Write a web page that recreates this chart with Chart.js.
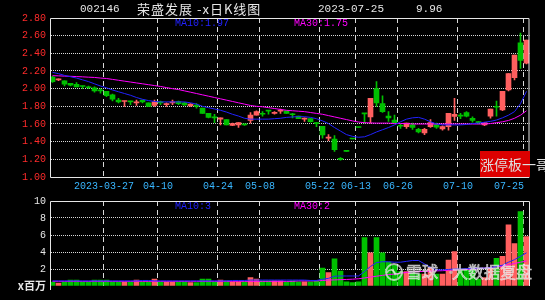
<!DOCTYPE html>
<html>
<head>
<meta charset="utf-8">
<script src="https://cdn.jsdelivr.net/npm/chart.js@4.4.0/dist/chart.umd.min.js"></script>
<style>
  body { margin: 0; background: #000; width: 545px; height: 300px; overflow: hidden; position: relative; }
  .box { position: absolute; left: 0; width: 545px; }
  .txt { position: absolute; white-space: nowrap; color: #e6e6e6; line-height: 14px; }
  .mono { font-family: 'Liberation Mono', monospace; font-size: 11px; }
  .cjk { font-family: 'Noto Sans CJK SC', sans-serif; font-size: 13px; letter-spacing: 1px; }
</style>
</head>
<body>
<div class="box" style="top:0;height:196px"><canvas id="price"></canvas></div>
<div class="box" style="top:190px;height:110px"><canvas id="vol"></canvas></div>

<span class="txt mono" style="left:80px;top:2px">002146</span>
<span class="txt cjk" style="left:137px;top:2px">荣盛发展 -x日K线图</span>
<span class="txt mono" style="left:318px;top:2px">2023-07-25</span>
<span class="txt mono" style="left:416px;top:2px">9.96</span>

<div style="position:absolute;left:480px;top:151px;width:50px;height:26px;background:#dc0000"></div>
<span class="txt" style="left:480px;top:151px;line-height:26px;font-family:'Noto Sans CJK SC',sans-serif;font-size:14px;color:#dedede">涨停板一哥</span>

<script>
// candles, 2023-03-14 .. 2023-07-25
const opens  = [2.13, 2.10, 2.09, 2.06, 2.05, 2.03, 2.02, 2.01, 1.98, 1.97,
                1.93, 1.87, 1.855, 1.86, 1.84, 1.87, 1.84, 1.81, 1.85, 1.82,
                1.84, 1.855, 1.84, 1.805, 1.815, 1.78, 1.72, 1.68, 1.655, 1.65,
                1.585, 1.59, 1.60, 1.64, 1.70, 1.72, 1.75, 1.72, 1.745, 1.75,
                1.71, 1.69, 1.655, 1.66, 1.61, 1.575, 1.44, 1.43, 1.21, 1.29,
                1.43, 1.56, 1.72, 1.68, 2.00, 1.83, 1.69, 1.645, 1.58, 1.57,
                1.59, 1.54, 1.50, 1.57, 1.59, 1.545, 1.57, 1.685, 1.695, 1.73,
                1.665, 1.62, 1.59, 1.69, 1.795, 1.76, 1.985, 2.125, 2.52, 2.29];
const highs  = [2.14, 2.11, 2.09, 2.06, 2.07, 2.03, 2.03, 2.02, 2.00, 1.97,
                1.94, 1.89, 1.86, 1.86, 1.87, 1.87, 1.84, 1.87, 1.86, 1.84,
                1.87, 1.86, 1.845, 1.83, 1.83, 1.78, 1.72, 1.71, 1.67, 1.65,
                1.61, 1.615, 1.60, 1.73, 1.75, 1.74, 1.75, 1.74, 1.77, 1.75,
                1.72, 1.69, 1.67, 1.66, 1.62, 1.575, 1.48, 1.47, 1.22, 1.29,
                1.43, 1.56, 1.72, 1.89, 2.08, 1.92, 1.74, 1.70, 1.60, 1.61,
                1.61, 1.55, 1.55, 1.65, 1.61, 1.58, 1.72, 1.89, 1.72, 1.74,
                1.68, 1.63, 1.62, 1.77, 1.86, 1.97, 2.17, 2.38, 2.63, 2.55];
const lows   = [2.07, 2.09, 2.03, 2.03, 2.02, 2.00, 2.00, 1.96, 1.95, 1.91,
                1.86, 1.84, 1.80, 1.82, 1.81, 1.84, 1.80, 1.80, 1.82, 1.80,
                1.82, 1.82, 1.81, 1.80, 1.78, 1.72, 1.67, 1.615, 1.59, 1.59,
                1.58, 1.56, 1.585, 1.61, 1.70, 1.69, 1.71, 1.71, 1.72, 1.72,
                1.67, 1.66, 1.63, 1.62, 1.57, 1.44, 1.41, 1.29, 1.19, 1.29,
                1.43, 1.56, 1.61, 1.61, 1.80, 1.73, 1.63, 1.61, 1.55, 1.55,
                1.54, 1.50, 1.48, 1.56, 1.55, 1.53, 1.53, 1.64, 1.66, 1.68,
                1.62, 1.60, 1.58, 1.665, 1.69, 1.75, 1.975, 2.10, 2.23, 2.28];
const closes = [2.08, 2.102, 2.05, 2.04, 2.02, 2.025, 2.01, 1.975, 1.975, 1.92,
                1.88, 1.85, 1.86, 1.85, 1.85, 1.85, 1.80, 1.85, 1.84, 1.83,
                1.85, 1.83, 1.815, 1.825, 1.80, 1.72, 1.675, 1.67, 1.67, 1.59,
                1.605, 1.615, 1.59, 1.70, 1.74, 1.71, 1.745, 1.73, 1.75, 1.72,
                1.705, 1.66, 1.66, 1.625, 1.605, 1.475, 1.445, 1.31, 1.20, 1.29,
                1.43, 1.56, 1.715, 1.89, 1.84, 1.74, 1.67, 1.615, 1.575, 1.61,
                1.56, 1.51, 1.54, 1.615, 1.565, 1.57, 1.72, 1.71, 1.69, 1.69,
                1.64, 1.615, 1.615, 1.77, 1.79, 1.97, 2.17, 2.38, 2.32, 2.55];
const ma10   = [2.185, 2.17, 2.15, 2.135, 2.12, 2.10, 2.08, 2.055, 2.03, 2.01,
                1.985, 1.965, 1.945, 1.925, 1.90, 1.88, 1.865, 1.855, 1.85, 1.85,
                1.85, 1.85, 1.85, 1.84, 1.825, 1.80, 1.785, 1.77, 1.755, 1.735,
                1.71, 1.69, 1.665, 1.655, 1.655, 1.655, 1.655, 1.66, 1.665, 1.675,
                1.68, 1.683, 1.683, 1.675, 1.66, 1.635, 1.605, 1.56, 1.52, 1.48,
                1.46, 1.45, 1.455, 1.48, 1.51, 1.535, 1.56, 1.59, 1.625, 1.655,
                1.67, 1.675, 1.655, 1.625, 1.60, 1.59, 1.59, 1.59, 1.59, 1.595,
                1.605, 1.61, 1.62, 1.63, 1.645, 1.67, 1.70, 1.74, 1.83, 1.97];
const ma30   = [2.147, 2.145, 2.142, 2.14, 2.137, 2.134, 2.13, 2.127, 2.12, 2.115,
                2.105, 2.095, 2.085, 2.075, 2.065, 2.055, 2.045, 2.035, 2.025, 2.012,
                2.00, 1.99, 1.975, 1.96, 1.945, 1.93, 1.915, 1.90, 1.885, 1.87,
                1.855, 1.84, 1.825, 1.81, 1.80, 1.795, 1.785, 1.775, 1.765, 1.755,
                1.75, 1.745, 1.74, 1.73, 1.72, 1.71, 1.695, 1.68, 1.665, 1.65,
                1.635, 1.622, 1.615, 1.612, 1.61, 1.61, 1.61, 1.605, 1.605, 1.605,
                1.60, 1.60, 1.60, 1.60, 1.60, 1.60, 1.60, 1.60, 1.60, 1.60,
                1.60, 1.60, 1.60, 1.605, 1.615, 1.625, 1.64, 1.665, 1.70, 1.75];

// volume, x百万
const volumes  = [0.45, 0.35, 0.5, 0.7, 0.7, 0.5, 0.5, 0.7, 0.7, 0.7,
                  0.5, 0.5, 0.5, 0.5, 0.7, 0.5, 0.5, 0.8, 0.5, 0.5,
                  0.5, 0.5, 0.5, 0.4, 0.4, 0.8, 0.8, 0.5, 0.7, 0.6,
                  0.5, 0.5, 0.5, 1.0, 0.8, 0.6, 0.6, 0.6, 0.6, 0.5,
                  0.6, 0.5, 0.5, 0.5, 0.6, 2.1, 1.57, 3.2, 1.76, 0.5,
                  0.4, 0.5, 5.7, 3.9, 5.7, 3.9, 2.8, 2.47, 1.7, 1.7,
                  1.7, 1.4, 1.4, 2.1, 1.4, 1.4, 3.06, 4.04, 1.96, 1.96,
                  1.96, 0.8, 1.0, 2.2, 3.26, 3.5, 7.2, 5.0, 8.75, 5.8];
const volMa10  = [0.6, 0.6, 0.6, 0.6, 0.6, 0.6, 0.6, 0.6, 0.6, 0.6,
                  0.6, 0.6, 0.6, 0.6, 0.6, 0.65, 0.65, 0.6, 0.6, 0.6,
                  0.6, 0.6, 0.6, 0.6, 0.6, 0.6, 0.6, 0.6, 0.6, 0.6,
                  0.65, 0.65, 0.65, 0.7, 0.7, 0.7, 0.7, 0.7, 0.7, 0.7,
                  0.7, 0.7, 0.7, 0.65, 0.65, 0.8, 0.9, 1.15, 1.18, 1.18,
                  1.18, 1.18, 1.7, 2.3, 2.75, 2.86, 2.85, 2.8, 2.8, 2.9,
                  3.0, 3.0, 2.6, 2.2, 1.9, 1.9, 1.95, 2.0, 2.0, 2.05,
                  2.1, 2.1, 2.1, 2.15, 2.3, 2.45, 2.8, 3.1, 3.5, 3.9];
const volMa30  = [0.55, 0.55, 0.55, 0.55, 0.55, 0.55, 0.55, 0.55, 0.55, 0.55,
                  0.55, 0.55, 0.55, 0.55, 0.55, 0.55, 0.55, 0.55, 0.55, 0.55,
                  0.55, 0.55, 0.55, 0.55, 0.55, 0.55, 0.55, 0.55, 0.55, 0.55,
                  0.55, 0.55, 0.55, 0.55, 0.55, 0.55, 0.55, 0.55, 0.55, 0.55,
                  0.55, 0.6, 0.6, 0.6, 0.6, 0.65, 0.7, 0.72, 0.75, 0.77,
                  0.8, 0.85, 0.95, 1.05, 1.15, 1.25, 1.35, 1.4, 1.5, 1.6,
                  1.65, 1.7, 1.72, 1.75, 1.78, 1.8, 1.85, 1.9, 1.92, 1.95,
                  2.0, 2.05, 2.1, 2.15, 2.25, 2.35, 2.5, 2.65, 2.8, 2.95];

const tickIdx    = [9, 18, 28, 35, 45, 51, 58, 68, 79];
const tickLabels = ['2023-03-27', '04-10', '04-24', '05-08', '05-22', '06-13', '06-26', '07-10', '07-25'];
const priceTicks = [1.0, 1.2, 1.4, 1.6, 1.8, 2.0, 2.2, 2.4, 2.6, 2.8];
const volTicks   = [0, 2, 4, 6, 8, 10];

const UP = '#ff5f5f', DOWN = '#00c000', BLUE = '#2222ff', PINK = '#ff00ff', GRID = '#d8d8d8';
const idx = opens.map((_, i) => i);
const colors = idx.map(i => closes[i] > opens[i] ? UP : DOWN);
const pts = arr => idx.map(i => ({ x: i, y: arr[i] }));

function xAxis(showLabels, h) {
    return {
        type: 'linear', min: -0.25, max: 79.5, offset: false,
        afterBuildTicks: s => { s.ticks = tickIdx.map(v => ({ value: v - 0.42 })); },
        afterFit: s => { s.height = h; s.paddingLeft = 0; s.paddingRight = 0; },
        ticks: {
            display: showLabels, autoSkip: false, maxRotation: 0, padding: 3, color: '#39b6ff',
            font: { family: 'Liberation Mono', size: 10 },
            // last label sits left of its line
            callback: (v, k) => k === tickIdx.length - 1 ? tickLabels[k] + '     ' : tickLabels[k]
        },
        grid: { color: GRID, drawTicks: false, offset: false },
        border: { display: false, dash: [5, 4] }
    };
}

function yAxis(min, max, ticks, labelFn, color, hideAt) {
    return {
        min: min, max: max,
        afterBuildTicks: s => { s.ticks = ticks.map(v => ({ value: v })); },
        afterFit: s => { s.width = 51; s.paddingTop = 0; s.paddingBottom = 0; },
        ticks: {
            padding: 5, color: color,
            font: ctx => ctx.tick && ctx.tick.value === 0 && labelFn(0) === 'x百万'
                ? { family: 'Noto Sans CJK SC', size: 11, weight: 'bold' }
                : { family: 'Liberation Mono', size: 10 },
            callback: v => labelFn(v)
        },
        grid: {
            drawTicks: false,
            color: ctx => hideAt.some(h => Math.abs(ctx.tick.value - h) < 0.001) ? 'rgba(0,0,0,0)' : GRID
        },
        border: { display: false, dash: [1, 1] }
    };
}

function line(arr, color) {
    return { type: 'line', data: pts(arr), borderColor: color, borderWidth: 1, pointRadius: 0, tension: 0, order: 0 };
}

function framePlugin(full, labels) {
    return {
        id: 'frame',
        afterDraw(chart) {
            const { ctx, chartArea: a } = chart;
            ctx.save();
            ctx.strokeStyle = '#e6e6e6';
            ctx.lineWidth = 1;
            ctx.beginPath();
            if (full) {
                ctx.rect(a.left - 0.5, a.top + 0.5, a.right - a.left, a.bottom - a.top);
            } else {
                ctx.moveTo(a.left - 0.5, a.bottom + 4);
                ctx.lineTo(a.left - 0.5, a.top + 0.5);
                ctx.lineTo(a.right, a.top + 0.5);
                ctx.lineTo(a.right, a.bottom);
            }
            ctx.stroke();
            ctx.font = '10px "Liberation Mono"';
            ctx.textBaseline = 'middle';
            labels.forEach(l => {
                ctx.fillStyle = l.color;
                ctx.fillText(l.text, l.x, a.top + 5.5);
            });
            ctx.restore();
        }
    };
}

const watermark = {
    id: 'watermark',
    afterDraw(chart) {
        const ctx = chart.ctx;
        const cy = 82;
        ctx.save();
        ctx.globalAlpha = 0.7;
        ctx.strokeStyle = '#f0f0f0';
        ctx.fillStyle = '#d0d0d0';
        ctx.lineWidth = 2;
        ctx.beginPath();
        ctx.arc(394, cy, 8, 0, Math.PI * 2);
        ctx.stroke();
        ctx.lineWidth = 1.5;
        ctx.beginPath();
        ctx.arc(391, cy + 2, 4, Math.PI * 1.1, Math.PI * 0.1);
        ctx.stroke();
        ctx.beginPath();
        ctx.arc(397, cy - 2, 4, Math.PI * 0.1, Math.PI * 1.1);
        ctx.stroke();
        ctx.font = '16px "Noto Sans CJK SC"';
        ctx.textBaseline = 'middle';
        ctx.fillText('雪球', 406, cy);
        ctx.fillText('·', 443, cy);
        ctx.fillText('大数据复盘', 452, cy);
        ctx.lineWidth = 0.6;
        ctx.strokeStyle = '#ffffff';
        ctx.strokeText('雪球', 406, cy);
        ctx.strokeText('大数据复盘', 452, cy);
        ctx.restore();
    }
};

const common = {
    responsive: true, maintainAspectRatio: false, animation: false, events: [],
    plugins: { legend: { display: false }, tooltip: { enabled: false } }
};

new Chart(document.getElementById('price'), {
    type: 'bar',
    data: {
        datasets: [
            line(ma10, BLUE),
            line(ma30, PINK),
            { data: idx.map(i => ({ x: i, y: [opens[i], closes[i]] })), backgroundColor: colors,
              barThickness: 5, minBarLength: 1, grouped: false, order: 1 },
            { data: idx.map(i => ({ x: i, y: [lows[i], highs[i]] })), backgroundColor: colors,
              barThickness: 1, grouped: false, order: 2 }
        ]
    },
    options: Object.assign({}, common, {
        layout: { padding: { top: 18, right: 15.5, left: 0, bottom: 0 } },
        scales: {
            x: xAxis(true, 19),
            y: yAxis(1, 2.8, priceTicks, v => v.toFixed(2), '#ff2b2b', [1.0, 2.8])
        }
    }),
    plugins: [framePlugin(true, [
        { text: 'MA10:' + ma10[ma10.length - 1].toFixed(2), x: 175, color: BLUE },
        { text: 'MA30:' + ma30[ma30.length - 1].toFixed(2), x: 294, color: PINK }
    ])]
});

new Chart(document.getElementById('vol'), {
    type: 'bar',
    data: {
        datasets: [
            line(volMa10, BLUE),
            line(volMa30, PINK),
            { data: pts(volumes), backgroundColor: colors, barThickness: 5, grouped: false, order: 1 }
        ]
    },
    options: Object.assign({}, common, {
        layout: { padding: { top: 11, right: 15.5, left: 0, bottom: 0 } },
        scales: {
            x: xAxis(false, 14),
            y: yAxis(0, 10, volTicks, v => v === 0 ? 'x百万' : String(v), '#e6e6e6', [0, 10])
        }
    }),
    plugins: [framePlugin(false, [
        { text: 'MA10:' + Math.floor(volMa10[volMa10.length - 1]), x: 175, color: BLUE },
        { text: 'MA30:' + Math.floor(volMa30[volMa30.length - 1]), x: 294, color: PINK }
    ]), watermark]
});
</script>
</body>
</html>
